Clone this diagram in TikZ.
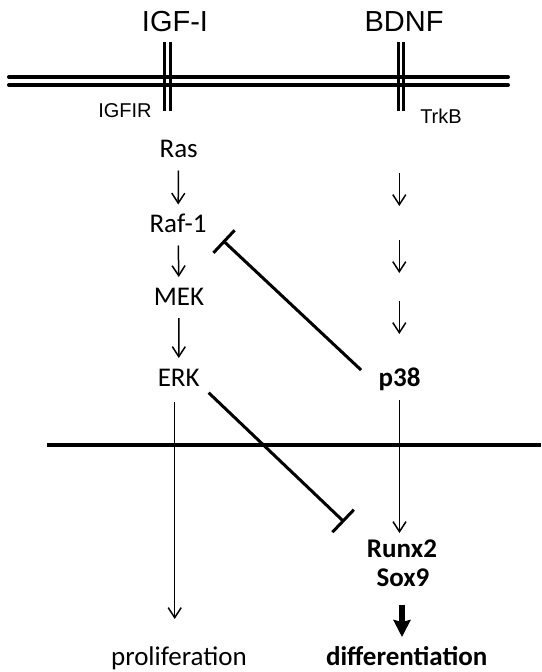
\documentclass[tikz,border=0pt]{standalone}
\usepackage{fontspec}
\setmainfont{Carlito}
\newfontfamily\arialf{Liberation Sans}
\usetikzlibrary{arrows.meta, calc, positioning}
\tikzset{
  prot/.style={font=\fontsize{27}{31}\selectfont, inner sep=0pt, outer sep=0pt, text height=17pt, text depth=0pt},
  bprot/.style={prot, font=\fontsize{27}{31}\selectfont\bfseries},
  ligand/.style={font=\arialf\fontsize{29}{33}\selectfont, inner sep=0pt, text height=21pt, text depth=0pt},
  recep/.style={font=\arialf\fontsize{20}{24}\selectfont, inner sep=0pt, text height=14pt, text depth=0pt},
  pto/.style={-{Straight Barb[length=10pt,width=13pt]}, line width=1.5pt, shorten <=13pt, shorten >=11pt},
  bigpto/.style={-{Stealth[length=17pt,width=17pt,inset=2pt]}, line width=5.5pt},
  inh/.style={-{Bar[width=31pt]}, line width=3pt},
  memb/.style={line width=4pt, line cap=round},
  rec/.style={line width=3.5pt}
}
\begin{document}
\begin{tikzpicture}[x=1pt, y=-1pt]
  \useasboundingbox (0,0) rectangle (541,672);

  % membrane and nucleus
  \draw[memb] (9,77) -- (508,77);
  \draw[memb] (9,85) -- (508,85);
  \draw[line width=4pt] (47,445) -- (541,445);

  % receptors
  \foreach \x in {164.5,170.5,398.5,403.5}
    \draw[rec] (\x,42) -- (\x,111);

  \node[ligand] (igf) at (175,21) {IGF-I};
  \node[ligand] (bdnf) at (404,21) {BDNF};
  \node[recep] (igfir) at (125,110) {IGFIR};
  \node[recep] (trkb) at (441,116) {TrkB};

  % IGF-I branch
  \node[prot] (ras) at (178.7,149) {Ras};
  \node[prot] (raf) at (178,224) {Raf-1};
  \node[prot] (mek) at (179,296.5) {MEK};
  \node[prot] (erk) at (178.7,377.5) {ERK};
  \node[prot] (prolif) at (179,656.5) {proliferation};

  % BDNF branch
  \node[bprot] (p38) at (399.5,377.5) {p38};
  \node[bprot] (runx) at (402,548.5) {Runx2};
  \node[bprot] (sox) at (403,578) {Sox9};
  \node[bprot] (diff) at (406.7,656.5) {differentiation};

  \draw[pto] (ras) -- (raf);
  \draw[pto] (raf) -- (mek);
  \draw[pto] (mek) -- (erk);
  \draw[pto, shorten <=16pt, shorten >=29pt] ([xshift=-4pt]erk.south) -- ([xshift=-4pt]erk.south |- prolif.north);

  \foreach \y [count=\i] in {173,240,301} {
    \coordinate (s\i) at (399.3,\y);
    \coordinate (e\i) at (399.3,\y+33);
    \draw[pto, shorten <=0pt, shorten >=0pt] (s\i) -- (e\i);
  }
  \draw[pto, shorten <=14pt, shorten >=7pt] (p38.south) -- (p38.south |- runx.north);
  \draw[bigpto, shorten <=18pt, shorten >=11pt] ([xshift=-1pt]sox.south) -- ([xshift=-1pt]sox.south |- diff.north);

  % inhibitions
  \draw[inh] ([shift={(-17.5,-7.5)}]p38.west) -- ([shift={(16.5,8)}]raf.south east);
  \draw[inh] ([shift={(9,6.7)}]erk.south east) -- ([shift={(-22.8,-26.5)}]runx.west);
\end{tikzpicture}
\end{document}
